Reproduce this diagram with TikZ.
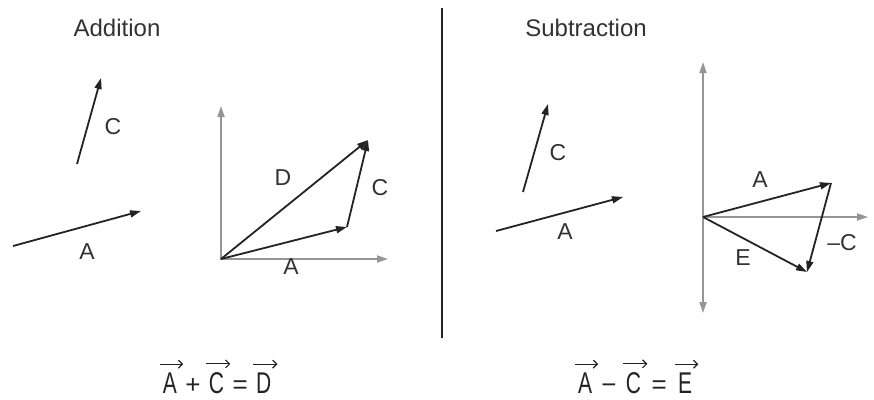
\documentclass[tikz,border=0pt]{standalone}
\usepackage{fontspec}
\setmainfont{Liberation Sans}
\usepackage{graphicx}
\definecolor{vecDark}{RGB}{35,35,35}
\definecolor{axisGray}{RGB}{150,150,150}
\definecolor{labelGray}{RGB}{50,50,50}
\usetikzlibrary{arrows.meta,positioning}
\newcommand{\eqch}[1]{\scalebox{0.7}[1]{#1}}

\begin{document}
\begin{tikzpicture}[x=1pt, y=-1pt,
  >={Triangle[length=11pt,width=7pt]},
  vecline/.style={line width=1.8pt, vecDark, ->},
  axis/.style={line width=1.8pt, axisGray},
  lbl/.style={font=\fontsize{23}{26}\selectfont, text=labelGray, inner sep=0pt},
  title/.style={font=\fontsize{24}{28}\selectfont, text=labelGray, inner sep=0pt},
  eqn/.style={font=\fontsize{30}{34}\selectfont, text=vecDark, inner sep=0pt, anchor=base},
  eqop/.style={font=\fontsize{26}{30}\selectfont, text=vecDark, inner sep=0pt},
  eqarrow/.style={line width=1.2pt, vecDark, -{Straight Barb[length=4pt,width=8pt]}}
]
  \useasboundingbox (0,0) rectangle (874,399);

  % Addition
  \node[title] (addT) at (117,28) {Addition};
  \coordinate (cLs) at (77,164);  \coordinate (cLe) at (101,78);
  \coordinate (aLs) at (13,246);  \coordinate (aLe) at (141,211);
  \node[lbl] (cLlab) at (113,127) {C};
  \node[lbl] (aLlab) at (87,252) {A};
  \draw[vecline] (cLs) -- (cLe);
  \draw[vecline] (aLs) -- (aLe);

  \coordinate (oL) at (221,259);
  \coordinate (yL) at (221,106);
  \coordinate (xL) at (388,259);
  \coordinate (pL) at (347,227);
  \coordinate (qL) at (368,140);
  \draw[axis, <->] (yL) -- (oL) -- (xL);
  \draw[vecline] (oL) -- (pL);
  \draw[vecline] (pL) -- (qL);
  \draw[vecline] (oL) -- (qL);
  \node[lbl] (dLab) at (283,178) {D};
  \node[lbl] (cLab) at (380,188) {C};
  \node[lbl] (aLab) at (291,267) {A};

  % divider
  \coordinate (divT) at (442,8);
  \coordinate (divB) at (442,338);
  \draw[line width=2.2pt, vecDark] (divT) -- (divB);

  % Subtraction
  \node[title] (subT) at (586,28) {Subtraction};
  \coordinate (cRs) at (523,192); \coordinate (cRe) at (548,104);
  \coordinate (aRs) at (496,231); \coordinate (aRe) at (623,197);
  \node[lbl] (cRlab) at (558,153) {C};
  \node[lbl] (aRlab) at (565,232) {A};
  \draw[vecline] (cRs) -- (cRe);
  \draw[vecline] (aRs) -- (aRe);

  \coordinate (oR) at (703,217);
  \coordinate (yRt) at (703,62);
  \coordinate (yRb) at (703,313);
  \coordinate (xR) at (868,217);
  \coordinate (pR) at (831,183);
  \coordinate (qR) at (807,272);
  \draw[axis, <->] (yRb) -- (yRt);
  \draw[axis, ->] (oR) -- (xR);
  \draw[vecline] (oR) -- (pR);
  \draw[vecline] (pR) -- (qR);
  \draw[vecline] (oR) -- (qR);
  \node[lbl] (aRab) at (760,180) {A};
  \node[lbl] (ncRab) at (842,243) {–C};
  \node[lbl] (eRab) at (743,258) {E};

  % equations
  \node[eqn] (eqA1) at (170,393) {\eqch{A}};
  \node[eqn, eqop, base right=8pt of eqA1]   (eqPlus) {+};
  \node[eqn, base right=8pt of eqPlus] (eqC1)   {\eqch{C}};
  \node[eqn, eqop, base right=8pt of eqC1]   (eqEq1)  {=};
  \node[eqn, base right=8pt of eqEq1]  (eqD1)   {\eqch{D}};

  \node[eqn] (eqA2) at (585,393) {\eqch{A}};
  \node[eqn, eqop, base right=9pt of eqA2]   (eqMinus) {−};
  \node[eqn, base right=9pt of eqMinus] (eqC2)    {\eqch{C}};
  \node[eqn, eqop, base right=10pt of eqC2]    (eqEq2)   {=};
  \node[eqn, base right=11pt of eqEq2]   (eqE2)    {\eqch{E}};

  \foreach \n in {eqA1,eqC1,eqD1,eqA2,eqC2,eqE2}
    \draw[eqarrow] ([shift={(-3pt,8pt)}]\n.north west) -- ([shift={(6pt,8pt)}]\n.north east);
\end{tikzpicture}
\end{document}
